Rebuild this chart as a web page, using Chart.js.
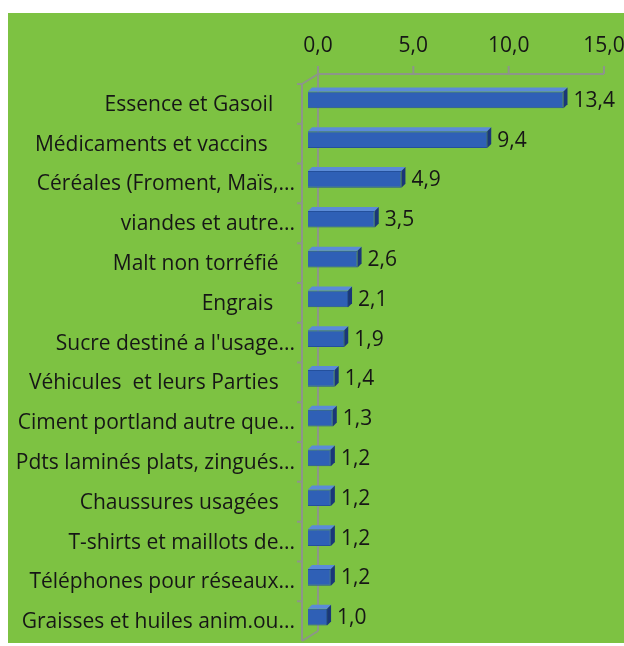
<!DOCTYPE html>
<html>
<head>
<meta charset="utf-8">
<script src="https://cdn.jsdelivr.net/npm/chart.js@4.4.0/dist/chart.umd.min.js"></script>
<style>
  html, body { margin: 0; padding: 0; background: #fff; }
  #wrap { width: 624px; height: 646px; }
</style>
</head>
<body>
<div id="wrap"><canvas id="importChart" width="624" height="646"></canvas></div>
<script>
// Data (trailing spaces as in the source labels)
const sp = n => '\u00a0'.repeat(n);
const categories = [
    'Essence et Gasoil' + sp(4),
    'Médicaments et vaccins' + sp(5),
    'Céréales (Froment, Maïs,...',
    'viandes et autre...',
    'Malt non torréfié' + sp(3),
    'Engrais' + sp(4),
    "Sucre destiné a l'usage...",
    'Véhicules  et leurs Parties' + sp(3),
    'Ciment portland autre que...',
    'Pdts laminés plats, zingués...',
    'Chaussures usagées' + sp(3),
    'T-shirts et maillots de...',
    'Téléphones pour réseaux...',
    'Graisses et huiles anim.ou...'
];
const values = [13.4, 9.4, 4.9, 3.5, 2.6, 2.1, 1.9, 1.4, 1.3, 1.2, 1.2, 1.2, 1.2, 1.0];
const tickValues = [0, 5, 10, 15];

const FONT = '"Open Sans", Lato, sans-serif';
const TEXT = '#161616';
const fmt = v => Number(v).toFixed(1).replace('.', ',');

// Green panel with white margin
const background = {
    id: 'background',
    beforeDraw(chart) {
        const c = chart.ctx;
        c.save();
        c.fillStyle = '#fff';
        c.fillRect(0, 0, chart.width, chart.height);
        c.fillStyle = '#7dc242';
        c.fillRect(8, 13, chart.width - 8, 630);
        c.restore();
    }
};

// 3D walls: floor edge, back wall and top value axis
const frame3d = {
    id: 'frame3d',
    beforeDatasetsDraw(chart) {
        const { ctx, chartArea: a, scales: { x, y } } = chart;
        const fx = a.left - 6, fy0 = a.top + 4, fy1 = a.bottom + 4;
        const dx = 16, dy = -10;
        const band = (a.bottom - a.top) / categories.length;
        ctx.save();
        ctx.strokeStyle = '#8d958a';
        ctx.lineWidth = 2;
        ctx.beginPath();
        ctx.moveTo(fx, fy0); ctx.lineTo(fx, fy1);
        ctx.moveTo(fx + dx, fy0 + dy); ctx.lineTo(fx + dx, fy1 + dy);
        ctx.moveTo(fx, fy0); ctx.lineTo(fx + dx, fy0 + dy);
        ctx.moveTo(fx, fy1); ctx.lineTo(fx + dx, fy1 + dy);
        ctx.moveTo(x.getPixelForValue(0) + 10, fy0 + dy);
        ctx.lineTo(x.getPixelForValue(15) + 10, fy0 + dy);
        tickValues.forEach(v => {
            const px = x.getPixelForValue(v) + 10;
            ctx.moveTo(px, fy0 + dy); ctx.lineTo(px, fy0 + dy - 8);
        });
        categories.forEach((c, i) => {
            const py = y.getPixelForValue(i) - band / 2 + 4;
            ctx.moveTo(fx - 5, py); ctx.lineTo(fx, py);
        });
        ctx.stroke();
        ctx.restore();
    }
};

// top + side faces of the bars, and the value labels
const bars3d = {
    id: 'bars3d',
    afterDatasetsDraw(chart) {
        const ctx = chart.ctx;
        const meta = chart.getDatasetMeta(0);
        const d = 4;
        ctx.save();
        meta.data.forEach((bar, i) => {
            const { x: xe, y: yc, base, height } = bar.getProps(['x', 'y', 'base', 'height'], true);
            const top = yc - height / 2, bot = yc + height / 2;
            ctx.fillStyle = '#5b8bd8';
            ctx.beginPath();
            ctx.moveTo(base, top); ctx.lineTo(base + d, top - d);
            ctx.lineTo(xe + d, top - d); ctx.lineTo(xe, top);
            ctx.closePath(); ctx.fill();
            ctx.fillStyle = '#1a3778';
            ctx.beginPath();
            ctx.moveTo(xe, top); ctx.lineTo(xe + d, top - d);
            ctx.lineTo(xe + d, bot - d); ctx.lineTo(xe, bot);
            ctx.closePath(); ctx.fill();

            ctx.fillStyle = TEXT;
            ctx.font = '21px ' + FONT;
            ctx.textAlign = 'left';
            ctx.textBaseline = 'middle';
            ctx.fillText(fmt(values[i]), xe + 10, yc + 1);
        });
        ctx.restore();
    }
};

const ctx = document.getElementById('importChart').getContext('2d');
new Chart(ctx, {
    type: 'bar',
    data: {
        labels: categories,
        datasets: [{
            data: values,
            backgroundColor: '#2f60b6',
            borderColor: '#24509c',
            borderWidth: 1,
            barPercentage: 0.42,
            categoryPercentage: 1
        }]
    },
    options: {
        indexAxis: 'y',
        responsive: false,
        animation: false,
        devicePixelRatio: 1,
        layout: { padding: { left: 0, right: 30, top: 0, bottom: 9 } },
        plugins: {
            legend: { display: false },
            tooltip: { enabled: false }
        },
        scales: {
            x: {
                position: 'top',
                min: 0,
                max: 15,
                ticks: {
                    stepSize: 5,
                    maxRotation: 0,
                    labelOffset: 10,
                    padding: 21,
                    color: TEXT,
                    font: { family: FONT, size: 21 },
                    callback: v => fmt(v)
                },
                grid: { display: false, drawTicks: false },
                border: { display: false },
                afterFit(s) {
                    s.height = 80;
                    s.paddingLeft = 0; s.paddingRight = 0;
                }
            },
            y: {
                ticks: {
                    autoSkip: false,
                    padding: 13,
                    labelOffset: 5,
                    color: TEXT,
                    font: { family: FONT, size: 21 }
                },
                grid: { display: false, drawTicks: false },
                border: { display: false },
                afterFit(s) {
                    s.width = 308;
                    s.paddingTop = 0; s.paddingBottom = 0;
                }
            }
        }
    },
    plugins: [background, frame3d, bars3d]
});
</script>
</body>
</html>
